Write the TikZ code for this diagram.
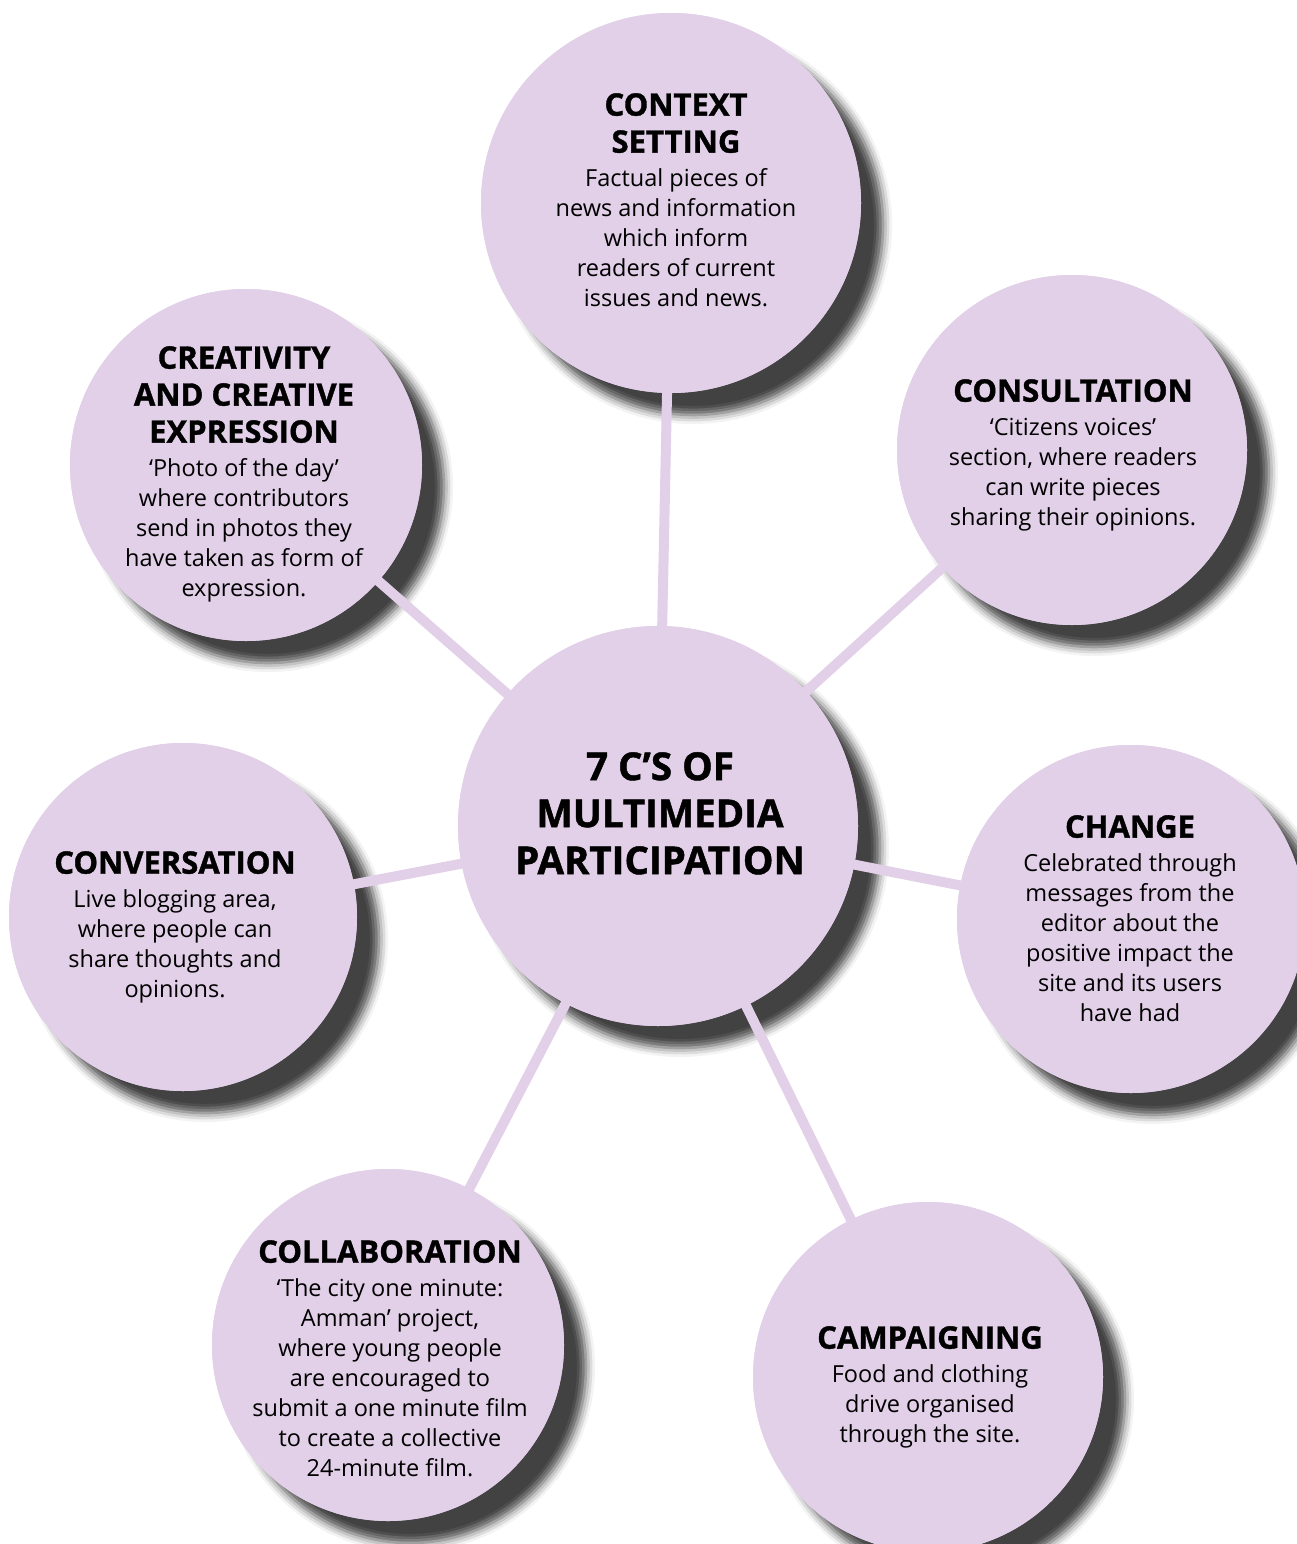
\documentclass[tikz,border=0pt]{standalone}
\usepackage{fontspec}
\setmainfont{Open Sans}
\newfontfamily\heavyfont{Open Sans}[BoldFeatures={FakeBold=1.2}]
\usepackage{xcolor}
\usepackage{tikz}
\usetikzlibrary{shadows.blur}

\definecolor{lilac}{RGB}{226,207,232}
\newcommand{\headtext}{\heavyfont\fontsize{31}{37}\bfseries\selectfont}
\newcommand{\bodytext}{\fontsize{23.5}{30}\selectfont}
\newcommand{\headline}[1]{{\headtext #1}}

\pgfdeclarelayer{shadows}
\pgfdeclarelayer{links}
\pgfsetlayers{shadows,links,main}

\tikzset{
    bubble/.style={circle, fill=lilac, inner sep=0pt, minimum size=#1},
    caption/.style={align=center, inner sep=0pt, anchor=north, font=\bodytext},
    link/.style={draw=lilac, line width=10pt},
    dropshadow/.style={blur shadow={shadow xshift=22pt, shadow yshift=-22pt,
        shadow blur radius=9pt, shadow opacity=74}}
}

\begin{document}
\begin{tikzpicture}[x=1pt, y=-1pt]
    \useasboundingbox (0,0) rectangle (1297,1544);

    \node[bubble=400pt] (hub) at (658,826) {};
    \node[bubble=380pt] (ctx) at (671,203) {};
    \node[bubble=350pt] (cons) at (1072,450) {};
    \node[bubble=348pt] (chg) at (1131,919) {};
    \node[bubble=350pt] (camp) at (928,1377) {};
    \node[bubble=352pt] (collab) at (388,1345) {};
    \node[bubble=348pt] (conv) at (183,917) {};
    \node[bubble=352pt] (creat) at (246,465) {};

    \begin{pgfonlayer}{shadows}
        \foreach \n/\r in {hub/200, ctx/190, cons/175, chg/174, camp/175, collab/176, conv/174, creat/176}
            \fill[lilac, dropshadow] (\n.center) circle[radius=\r];
    \end{pgfonlayer}

    \begin{pgfonlayer}{links}
        \foreach \n in {ctx, cons, chg, camp, collab, conv, creat}
            \draw[link] (hub.center) -- (\n.center);
    \end{pgfonlayer}

    \node[caption, font={\heavyfont\fontsize{38.5}{47}\bfseries\selectfont}] (hubtxt) at (660,752)
        {7 C’S OF\\MULTIMEDIA\\PARTICIPATION};

    \node[caption] (ctxtxt) at (676,93) {\headline{CONTEXT}\\[7pt]\headline{SETTING}\\[4pt]
        Factual pieces of\\news and information\\which inform\\readers of current\\issues and news.};

    \node[caption] (constxt) at (1073,379) {\headline{CONSULTATION}\\[4pt]
        ‘Citizens voices’\\section, where readers\\can write pieces\\sharing their opinions.};

    \node[caption] (chgtxt) at (1130,815) {\headline{CHANGE}\\[4pt]
        Celebrated through\\messages from the\\editor about the\\positive impact the\\site and its users\\have had};

    \node[caption] (camptxt) at (930,1326) {\headline{CAMPAIGNING}\\[4pt]
        Food and clothing\\drive organised\\through the site.};

    \node[caption] (collabtxt) at (390,1240) {\headline{COLLABORATION}\\[4pt]
        ‘The city one minute:\\Amman’ project,\\where young people\\are encouraged to\\submit a one minute film\\to create a collective\\24-minute film.};

    \node[caption] (convtxt) at (175,851) {\headline{CONVERSATION}\\[4pt]
        Live blogging area,\\where people can\\share thoughts and\\opinions.};

    \node[caption] (creattxt) at (244,346) {\headline{CREATIVITY}\\[7pt]\headline{AND CREATIVE}\\[7pt]\headline{EXPRESSION}\\[4pt]
        ‘Photo of the day’\\where contributors\\send in photos they\\have taken as form of\\expression.};
\end{tikzpicture}
\end{document}
